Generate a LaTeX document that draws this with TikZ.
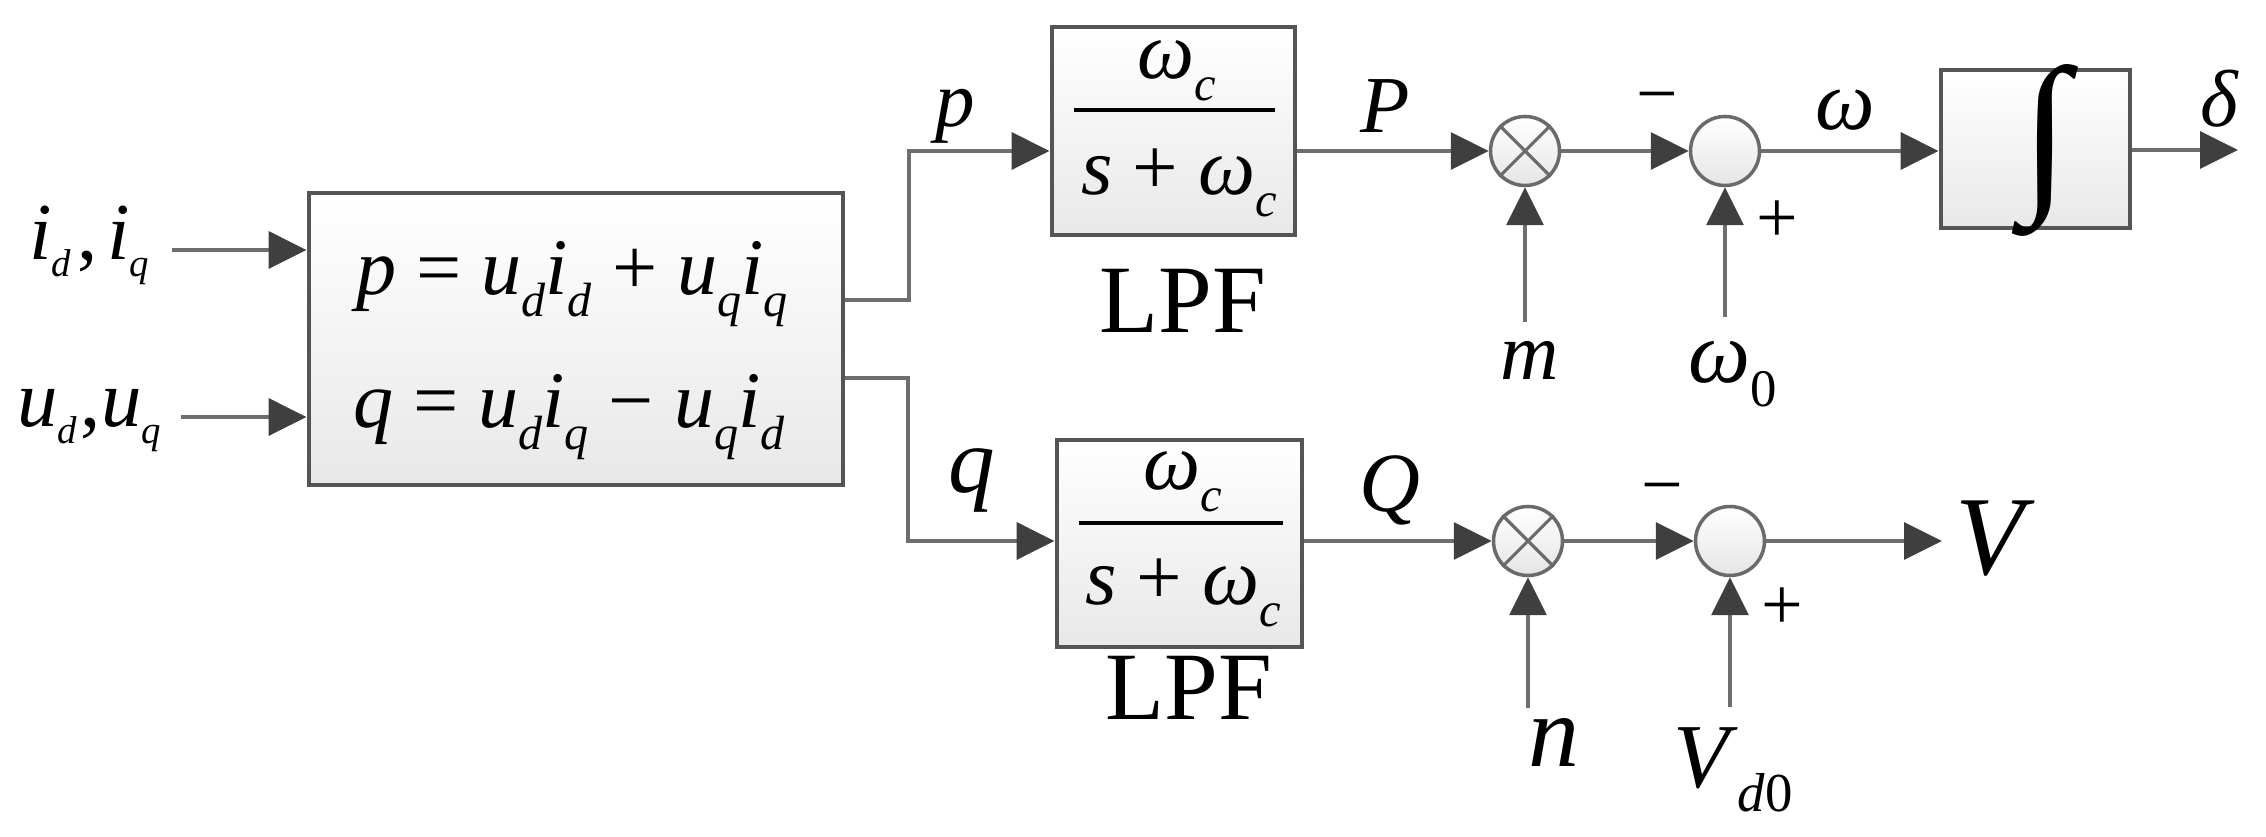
\documentclass[tikz,border=0pt]{standalone}
\usepackage{fontspec}
\setmainfont{Liberation Serif}
\usetikzlibrary{arrows.meta,calc}
\definecolor{boxc}{HTML}{555555}
\definecolor{circc}{HTML}{6A6A6A}
\definecolor{linec}{HTML}{6E6E6E}
\definecolor{tipc}{HTML}{3F3F3F}
\newcommand{\fs}[1]{\fontsize{#1}{#1}\selectfont}
\newcommand{\sba}[1]{\raisebox{-0.27em}{\scalebox{0.6}{\textit{#1}}}}
\newcommand{\sbr}[1]{\raisebox{-0.27em}{\scalebox{0.6}{#1}}}
\newcommand{\sbb}[1]{\raisebox{-0.2em}{\scalebox{0.48}{\textit{#1}}}}
\begin{document}
\begin{tikzpicture}[x=0.1mm,y=-0.1mm,
  lab/.style={inner sep=0pt, outer sep=0pt},
  blk/.style={draw=boxc, line width=1.4pt, top color=white, bottom color=black!9, inner sep=0pt},
  junc/.style={circle, draw=circc, line width=1pt, top color=white, bottom color=black!10, minimum size=6.9mm, inner sep=0pt},
  conn/.style={draw=linec, line width=1.1pt, -{Triangle[length=10.8pt,width=10.5pt,color=tipc]}},
  fbar/.style={draw=black, line width=1.1pt},
  xline/.style={draw=circc, line width=0.9pt}]
\useasboundingbox (0,0) rectangle (2266,837);

% blocks
\node[blk, minimum width=53.4mm, minimum height=29.2mm] (pq) at (576,339) {};
\node[blk, minimum width=24.3mm, minimum height=20.8mm] (lpf1) at (1173.5,131) {};
\node[blk, minimum width=24.5mm, minimum height=20.7mm] (lpf2) at (1179.5,543.5) {};
\node[blk, minimum width=18.9mm, minimum height=15.8mm] (integ) at (2035.5,149) {};
\node[lab] (intsym) at (2045,150) {\resizebox{!}{12.5mm}{∫}};

% junctions
\node[junc] (mul1) at (1525,151) {};
\node[junc] (sum1) at (1725,151) {};
\node[junc] (mul2) at (1528,541) {};
\node[junc] (sum2) at (1730,541) {};
\draw[xline] (mul1.45) -- (mul1.225) (mul1.135) -- (mul1.315);
\draw[xline] (mul2.45) -- (mul2.225) (mul2.135) -- (mul2.315);

% equations
\node[lab,anchor=base west] (eqp) at (356,295) {\fs{22.8}\textit{p} = \textit{u}\sba{d}\textit{i}\sba{d} + \textit{u}\sba{q}\textit{i}\sba{q}};
\node[lab,anchor=base west] (eqq) at (353,428) {\fs{22.8}\textit{q} = \textit{u}\sba{d}\textit{i}\sba{q} − \textit{u}\sba{q}\textit{i}\sba{d}};

% fractions
\node[lab,anchor=base west] (n1) at (1137,79) {\fs{23}\textit{ω}\sba{c}};
\draw[fbar] (1074,110) -- (1275,110);
\node[lab,anchor=base west] (d1) at (1081,195) {\fs{23}\textit{s} + \textit{ω}\sba{c}};
\node[lab,anchor=base west] (n2) at (1143,490) {\fs{23}\textit{ω}\sba{c}};
\draw[fbar] (1079,523) -- (1283,523);
\node[lab,anchor=base west] (d2) at (1085,605) {\fs{23}\textit{s} + \textit{ω}\sba{c}};

% labels
\node[lab,anchor=base west] (lid) at (29,260) {\fs{23}\textit{i}\sbb{d}\kern0.08em,\kern0.12em\textit{i}\sbb{q}};
\node[lab,anchor=base west] (lud) at (17,427) {\fs{23}\textit{u}\sbb{d}\kern0.05em,\textit{u}\sbb{q}};
\node[lab,anchor=base] (lp) at (955,127) {\fs{22.5}\textit{p}};
\node[lab,anchor=base] (lP) at (1385,133) {\fs{23}\textit{P}};
\node[lab,anchor=base] (lw) at (1845,130) {\fs{24}\textit{ω}};
\node[lab,anchor=base] (ld) at (2220,127) {\fs{23}\textit{δ}};
\node[lab,anchor=base] (lm) at (1530,380) {\fs{23}\textit{m}};
\node[lab,anchor=base west] (lw0) at (1688,383) {\fs{25}\textit{ω}\sbr{0}};
\node[lab,anchor=base] (lLPF1) at (1183,333) {\fs{27.5}LPF};
\node[lab,anchor=base] (lq) at (972,493) {\fs{26.5}\textit{q}};
\node[lab,anchor=base] (lQ) at (1390,512) {\fs{24}\textit{Q}};
\node[lab,anchor=base] (lLPF2) at (1189,720) {\fs{27.5}LPF};
\node[lab,anchor=base] (lV) at (1995,575) {\fs{32}\textit{V}};
\node[lab,anchor=base] (ln) at (1554,767) {\fs{29}\textit{n}};
\node[lab,anchor=base west] (lVd) at (1673,787) {\fs{26}\textit{V}\sba{d}\sbr{0}};
\node[lab] (mn1) at (1657,105) {\fs{21}−};
\node[lab] (pl1) at (1777,222) {\fs{21}+};
\node[lab] (mn2) at (1662,496) {\fs{21}−};
\node[lab] (pl2) at (1782,609) {\fs{21}+};

% coordinates
\coordinate (inI) at (172,250);
\coordinate (inU) at (181,417);
\coordinate (kp) at (909,300);
\coordinate (kq) at (908,378);
\coordinate (dend) at (2238,150);
\coordinate (vend) at (1942,541);
\coordinate (mft) at (1525,322);
\coordinate (wft) at (1725,317);
\coordinate (nft) at (1528,708);
\coordinate (vft) at (1730,707);

% connectors
\draw[conn] (inI) -- (inI -| pq.west);
\draw[conn] (inU) -- (inU -| pq.west);
\draw[conn] (pq.east |- kp) -- (kp) |- (lpf1.west |- mul1.center);
\draw[conn] (pq.east |- kq) -- (kq) |- (lpf2.west |- mul2.center);
\draw[conn] (lpf1.east |- mul1.center) -- (mul1.west);
\draw[conn] (mul1.east) -- (sum1.west);
\draw[conn] (sum1.east) -- (sum1.east -| integ.west);
\draw[conn] (integ.east |- dend) -- (dend);
\draw[conn] (lpf2.east |- mul2.center) -- (mul2.west);
\draw[conn] (mul2.east) -- (sum2.west);
\draw[conn] (sum2.east) -- (vend);
\draw[conn] (mft) -- (mul1.south);
\draw[conn] (wft) -- (sum1.south);
\draw[conn] (nft) -- (mul2.south);
\draw[conn] (vft) -- (sum2.south);
\end{tikzpicture}
\end{document}
